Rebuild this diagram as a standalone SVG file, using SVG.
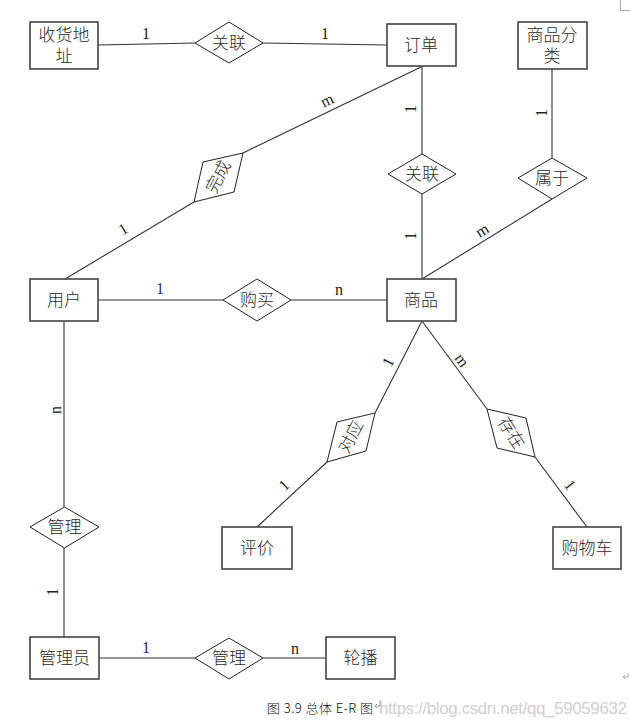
<svg xmlns="http://www.w3.org/2000/svg" width="630" height="721" viewBox="0 0 630 721">
<style>
.box{fill:#fff;stroke:#444;stroke-width:1.6}
.dia{fill:#fff;stroke:#222;stroke-width:1}
.ln{stroke:#333;stroke-width:1.1;fill:none}
.t{font-family:"Liberation Serif","Noto Sans CJK SC",serif;font-size:17px;font-weight:300;fill:#2a2a2a;text-anchor:middle;dominant-baseline:central}
.c{font-family:"Liberation Serif",serif;font-size:16px;fill:#222;text-anchor:middle;dominant-baseline:central}
.b{fill:#2a2a7a}
</style>
<rect width="630" height="721" fill="#fff"/>
<g id="connectors">
<line class="ln" x1="98" y1="45" x2="195" y2="43"/>
<line class="ln" x1="263" y1="43" x2="387" y2="45"/>
<line class="ln" x1="421" y1="67" x2="243" y2="153"/>
<line class="ln" x1="194" y1="202" x2="65" y2="279"/>
<line class="ln" x1="422" y1="66" x2="422" y2="154"/>
<line class="ln" x1="422" y1="194" x2="422" y2="279"/>
<line class="ln" x1="552" y1="69" x2="552" y2="158"/>
<line class="ln" x1="552" y1="199" x2="422" y2="279"/>
<line class="ln" x1="98" y1="300" x2="223" y2="300"/>
<line class="ln" x1="291" y1="300" x2="387" y2="300"/>
<line class="ln" x1="422" y1="321" x2="375" y2="413"/>
<line class="ln" x1="327" y1="462" x2="257" y2="527"/>
<line class="ln" x1="422" y1="321" x2="487" y2="409"/>
<line class="ln" x1="535" y1="457" x2="587" y2="527"/>
<line class="ln" x1="64" y1="321" x2="64" y2="507"/>
<line class="ln" x1="64" y1="548" x2="64" y2="637"/>
<line class="ln" x1="99" y1="658" x2="195" y2="658"/>
<line class="ln" x1="263" y1="658" x2="326" y2="658"/>
<text class="c" x="146" y="33">1</text>
<text class="c" x="325" y="33">1</text>
<text class="c" transform="translate(327,100) rotate(-26)">m</text>
<text class="c" transform="translate(123,229) rotate(-31)">1</text>
<text class="c" transform="translate(410,109) rotate(-90)">1</text>
<text class="c" transform="translate(410,236) rotate(-90)">1</text>
<text class="c" transform="translate(541,113) rotate(-90)">1</text>
<text class="c" transform="translate(482,230) rotate(-31)">m</text>
<text class="c b" x="160" y="288">1</text>
<text class="c" x="339" y="289">n</text>
<text class="c" transform="translate(388,362) rotate(-63)">1</text>
<text class="c" transform="translate(462,360) rotate(54)">m</text>
<text class="c" transform="translate(284,485) rotate(-43)">1</text>
<text class="c" transform="translate(570,485) rotate(53)">1</text>
<text class="c" transform="translate(55,410) rotate(-90)">n</text>
<text class="c" transform="translate(52,592) rotate(-90)">1</text>
<text class="c b" x="146" y="647">1</text>
<text class="c" x="295" y="648">n</text>
</g>
<g id="shouhuodizhi"><rect class="box" x="30" y="22" width="68" height="47"/><text class="t" x="64" y="35">收货地</text><text class="t" x="64" y="56">址</text></g>
<g id="guanlian1"><polygon class="dia" points="195,43 229,22 263,43 229,63"/><text class="t" x="229" y="43">关联</text></g>
<g id="dingdan"><rect class="box" x="387" y="24" width="69" height="42"/><text class="t" x="421" y="45">订单</text></g>
<g id="shangpinfenlei"><rect class="box" x="518" y="22" width="69" height="47"/><text class="t" x="552" y="35">商品分</text><text class="t" x="552" y="56">类</text></g>
<g id="wancheng"><polygon class="dia" points="243,153 203,162 194,202 234,192"/><text class="t" transform="translate(218.5,177) rotate(-62)">完成</text></g>
<g id="guanlian2"><polygon class="dia" points="388,174 422,154 456,174 422,194"/><text class="t" x="422" y="174">关联</text></g>
<g id="shuyu"><polygon class="dia" points="518,178 552,158 587,178 552,199"/><text class="t" x="552" y="178">属于</text></g>
<g id="yonghu"><rect class="box" x="30" y="279" width="68" height="42"/><text class="t" x="64" y="300">用户</text></g>
<g id="goumai"><polygon class="dia" points="223,300 257,279 291,300 257,321"/><text class="t" x="257" y="300">购买</text></g>
<g id="shangpin"><rect class="box" x="387" y="279" width="69" height="42"/><text class="t" x="421" y="300">商品</text></g>
<g id="duiying"><polygon class="dia" points="375,413 337,422 327,462 366,451"/><text class="t" transform="translate(351,437) rotate(-62)">对应</text></g>
<g id="cunzai"><polygon class="dia" points="487,409 526,418 535,457 497,448"/><text class="t" transform="translate(511,433) rotate(57)">存在</text></g>
<g id="pingjia"><rect class="box" x="222" y="527" width="70" height="42"/><text class="t" x="257" y="548">评价</text></g>
<g id="gouwuche"><rect class="box" x="553" y="527" width="68" height="42"/><text class="t" x="587" y="548">购物车</text></g>
<g id="guanli1"><polygon class="dia" points="30,527 64.5,507 99,527 64.5,548"/><text class="t" x="64.5" y="527">管理</text></g>
<g id="guanliyuan"><rect class="box" x="30" y="637" width="69" height="42"/><text class="t" x="64.5" y="658">管理员</text></g>
<g id="guanli2"><polygon class="dia" points="195,658 229,638 263,658 229,679"/><text class="t" x="229" y="658">管理</text></g>
<g id="lunbo"><rect class="box" x="326" y="637" width="69" height="42"/><text class="t" x="360.5" y="658">轮播</text></g>
<g id="caption">
<text x="267" y="713" font-family="'Noto Sans CJK SC','Liberation Mono',monospace" font-size="13" font-weight="300" fill="#111" textLength="106">图 3.9 总体 E-R 图</text>
<text x="379" y="714" font-family="'Liberation Sans',Arial,sans-serif" font-size="17" fill="#d0d0d0" textLength="248">https://blog.csdn.net/qq_59059632</text>
<path d="M380,700 v6 h-5 M375,706 l2,-2 M375,706 l2,2" stroke="#888" stroke-width="0.8" fill="none"/>
</g>
<g id="marks" stroke="#aaa" stroke-width="1" fill="none">
<path d="M620.5,0 V10.5 H630"/>
<path d="M628,673 v4 h-5 M623,677 l2,-2 M623,677 l2,2"/>
</g>
</svg>
